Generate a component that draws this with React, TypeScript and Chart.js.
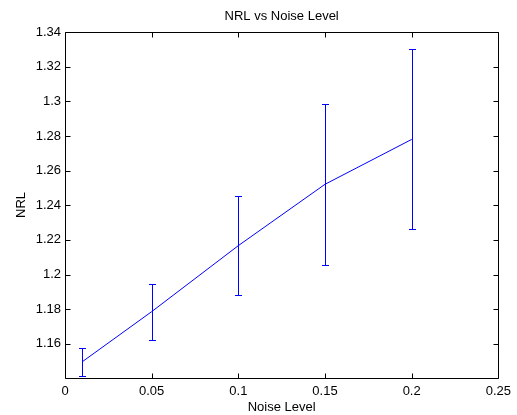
import { useEffect, useRef } from "react";
import { Chart, registerables } from "chart.js";

Chart.register(...registerables);

// ---- data ----
const noiseLevels = [0.01, 0.05, 0.1, 0.15, 0.2];
const nrlMean = [1.1497, 1.1786, 1.2167, 1.2521, 1.278];
const nrlUpper = [1.1577, 1.1946, 1.2454, 1.2983, 1.3302];
const nrlLower = [1.1413, 1.1623, 1.1883, 1.2054, 1.2262];
const xTicks = [0, 0.05, 0.1, 0.15, 0.2, 0.25];
const yTicks = [1.16, 1.18, 1.2, 1.22, 1.24, 1.26, 1.28, 1.3, 1.32, 1.34];

const FONT = "'Liberation Sans', Arial, Helvetica, sans-serif";
const BLUE = "#0000ff";
const FS = 13;

const fmt = (v: number) => String(Number(v.toFixed(2)));

const errorBarPlugin = {
  id: "errorBars",
  afterDatasetsDraw(chart: any) {
    const xs = chart.scales.x;
    const ys = chart.scales.y;
    const ctx = chart.ctx;
    ctx.save();
    ctx.strokeStyle = BLUE;
    ctx.lineWidth = 1;
    const cap = 3.5;
    for (let i = 0; i < noiseLevels.length; i++) {
      const x = Math.round(xs.getPixelForValue(noiseLevels[i])) + 0.5;
      const yu = Math.round(ys.getPixelForValue(nrlUpper[i])) + 0.5;
      const yl = Math.round(ys.getPixelForValue(nrlLower[i])) + 0.5;
      ctx.beginPath();
      ctx.moveTo(x, yu);
      ctx.lineTo(x, yl);
      ctx.moveTo(x - cap, yu);
      ctx.lineTo(x + cap, yu);
      ctx.moveTo(x - cap, yl);
      ctx.lineTo(x + cap, yl);
      ctx.stroke();
    }
    ctx.restore();
  },
};

const framePlugin = {
  id: "matlabFrame",
  afterDraw(chart: any) {
    const { left, right, top, bottom } = chart.chartArea;
    const xs = chart.scales.x;
    const ys = chart.scales.y;
    const ctx = chart.ctx;
    const L = Math.round(left) + 0.5;
    const R = Math.round(right) + 0.5;
    const T = Math.round(top) + 0.5;
    const B = Math.round(bottom) + 0.5;
    const tl = 5;
    ctx.save();
    ctx.strokeStyle = "#000";
    ctx.lineWidth = 1;
    ctx.beginPath();
    ctx.rect(L, T, R - L, B - T);
    for (const v of xTicks) {
      const x = Math.round(xs.getPixelForValue(v)) + 0.5;
      ctx.moveTo(x, B);
      ctx.lineTo(x, B - tl);
      ctx.moveTo(x, T);
      ctx.lineTo(x, T + tl);
    }
    for (const v of yTicks) {
      const y = Math.round(ys.getPixelForValue(v)) + 0.5;
      ctx.moveTo(L, y);
      ctx.lineTo(L + tl, y);
      ctx.moveTo(R, y);
      ctx.lineTo(R - tl, y);
    }
    ctx.stroke();
    ctx.restore();
  },
};

export default function App() {
  const canvasRef = useRef<HTMLCanvasElement | null>(null);

  useEffect(() => {
    const canvas = canvasRef.current;
    if (!canvas) return;
    const chart = new Chart(canvas, {
      type: "line",
      data: {
        datasets: [
          {
            label: "NRL",
            data: noiseLevels.map((x, i) => ({ x, y: nrlMean[i] })),
            borderColor: BLUE,
            backgroundColor: BLUE,
            borderWidth: 1,
            pointRadius: 0,
            tension: 0,
            fill: false,
          },
        ],
      },
      options: {
        animation: false,
        responsive: false,
        maintainAspectRatio: false,
        devicePixelRatio: 1,
        layout: { padding: { left: 0, right: 12, top: 0, bottom: 0 } },
        plugins: {
          legend: { display: false },
          tooltip: { enabled: false },
          title: {
            display: true,
            text: "NRL vs Noise Level",
            fullSize: false,
            color: "#000",
            font: { family: FONT, size: FS, weight: "normal" },
            padding: { top: 9, bottom: 7.4 },
          },
        },
        scales: {
          x: {
            type: "linear",
            min: 0,
            max: 0.25,
            grid: { display: false, drawTicks: false },
            border: { display: false },
            afterBuildTicks: (scale: any) => {
              scale.ticks = xTicks.map((v) => ({ value: v }));
            },
            afterFit: (scale: any) => {
              scale.height = 37;
            },
            ticks: {
              color: "#000",
              font: { family: FONT, size: FS },
              padding: 6,
              maxRotation: 0,
              autoSkip: false,
              callback: (v: any) => fmt(Number(v)),
            },
            title: {
              display: true,
              text: "Noise Level",
              color: "#000",
              font: { family: FONT, size: FS },
              padding: { top: 0, bottom: 0 },
            },
          },
          y: {
            type: "linear",
            min: 1.1403,
            max: 1.34,
            grid: { display: false, drawTicks: false },
            border: { display: false },
            afterBuildTicks: (scale: any) => {
              scale.ticks = yTicks.map((v) => ({ value: v }));
            },
            afterFit: (scale: any) => {
              scale.width = 65;
            },
            ticks: {
              color: "#000",
              font: { family: FONT, size: FS },
              padding: 4,
              autoSkip: false,
              callback: (v: any) => fmt(Number(v)),
            },
            title: {
              display: true,
              text: "NRL",
              color: "#000",
              font: { family: FONT, size: FS },
              padding: { top: 14, bottom: 0 },
            },
          },
        },
      },
      plugins: [errorBarPlugin, framePlugin],
    } as any);
    return () => chart.destroy();
  }, []);

  return (
    <div style={{ position: "fixed", left: 0, top: 0, width: 517, height: 415, background: "#fff" }}>
      <canvas ref={canvasRef} width={517} height={415} style={{ width: 517, height: 415, display: "block" }} />
    </div>
  );
}
